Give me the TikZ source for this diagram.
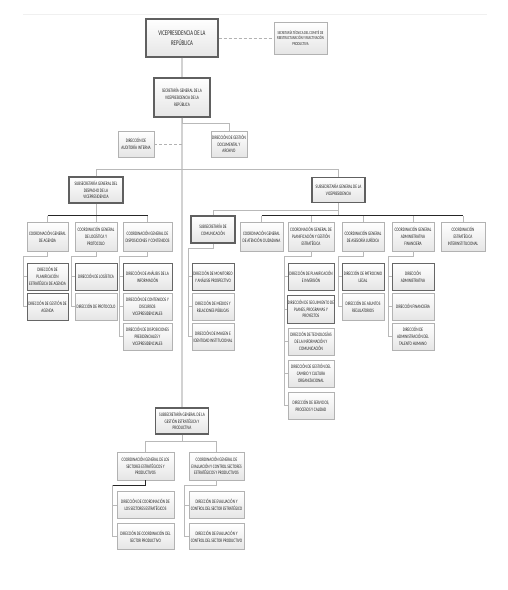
\documentclass[tikz,border=0pt]{standalone}
\usepackage{fontspec}
\newfontfamily\orgfont{Carlito}[FakeStretch=0.67]
\usetikzlibrary{shadows,calc}
\definecolor{txt}{HTML}{262626}
\begin{document}
\begin{tikzpicture}[x=1pt,y=-1pt,
  box/.style={draw=gray!60, line width=0.6pt, top color=white, bottom color=gray!20,
    drop shadow={shadow xshift=0.8pt,shadow yshift=-0.8pt,fill=gray!60,opacity=1},
    inner sep=0.5pt, align=center, text=txt,
    font=\orgfont\fontsize{5.2}{6.8}\selectfont},
  hbox/.style={box, draw=gray!75!black, line width=1.3pt},
  dbox/.style={box, draw=gray!80!black, line width=0.9pt},
  sz/.style 2 args={minimum width=#1pt, minimum height=#2pt},
  ln/.style={draw=gray!55, line width=0.9pt},
  mainln/.style={draw=gray!35, line width=1.6pt},
  dk/.style={draw=black!85, line width=1.1pt},
  dsh/.style={draw=gray!60, dash pattern=on 3pt off 2pt, line width=1pt}]
\fill[white] (0,0) rectangle (508,590);
\useasboundingbox (0,0) rectangle (508,590);
\draw[gray!12, line width=0.8pt] (23,14) -- (487,14);

% ---- top
\node[hbox, sz={72}{38}, font=\orgfont\fontsize{7.2}{9.5}\selectfont] (vp) at (182,38) {VICEPRESIDENCIA DE LA\\REPÚBLICA};
\node[box, sz={53}{32}, font=\orgfont\fontsize{4.5}{5.8}\selectfont] (stc) at (300.5,38) {SECRETARÍA TÉCNICA DEL COMITÉ DE\\REESTRUCTURACIÓN Y REACTIVACIÓN\\PRODUCTIVA};
\node[hbox, sz={56}{39}] (sg) at (182,97.5) {SECRETARÍA GENERAL DE LA\\VICEPRESIDENCIA DE LA\\REPÚBLICA};
\node[box, sz={36}{26}] (aud) at (136,144) {DIRECCIÓN DE\\AUDITORÍA INTERNA};
\node[box, sz={36}{26}] (doc) at (229,144) {DIRECCIÓN DE GESTIÓN\\DOCUMENTAL Y\\ARCHIVO};

% ---- subsecretarias
\node[hbox, sz={54}{26}] (ssd) at (96,190) {SUBSECRETARÍA GENERAL DEL\\DESPACHO DE LA\\VICEPRESIDENCIA};
\node[hbox, sz={53}{25}] (ssv) at (338.5,190) {SUBSECRETARÍA GENERAL DE LA\\VICEPRESIDENCIA};

% ---- left row
\node[box, sz={41}{29}] (ag) at (47.5,236.5) {COORDINACIÓN GENERAL\\DE AGENDA};
\node[box, sz={42}{29}] (lp) at (96,236.5) {COORDINACIÓN GENERAL\\DE LOGÍSTICA Y\\PROTOCOLO};
\node[box, sz={49}{29}] (dc) at (147.5,236.5) {COORDINACIÓN GENERAL DE\\DISPOSICIONES Y CONTENIDOS};

\node[dbox, sz={41}{27}] (ag1) at (47.5,276.5) {DIRECCIÓN DE\\PLANIFICACIÓN\\ESTRATÉGICA DE AGENDA};
\node[dbox, sz={41}{27}] (ag2) at (47.5,306.5) {DIRECCIÓN DE GESTIÓN DE\\AGENDA};
\node[dbox, sz={42}{27}] (lp1) at (96,276.5) {DIRECCIÓN DE LOGÍSTICA};
\node[box, sz={42}{27}] (lp2) at (96,306.5) {DIRECCIÓN DE PROTOCOLO};
\node[dbox, sz={49}{27}] (dc1) at (147.5,276.5) {DIRECCIÓN DE ANÁLISIS DE LA\\INFORMACIÓN};
\node[box, sz={49}{27}] (dc2) at (147.5,306.5) {DIRECCIÓN DE CONTENIDOS Y\\DISCURSOS\\VICEPRESIDENCIALES};
\node[box, sz={49}{27}] (dc3) at (147.5,336.5) {DIRECCIÓN DE DISPOSICIONES\\PRESIDENCIALES Y\\VICEPRESIDENCIALES};

% ---- right row
\node[hbox, sz={44}{27}] (com) at (213,229.5) {SUBSECRETARÍA DE\\COMUNICACIÓN};
\node[box, sz={43}{29}] (ate) at (261.5,236.5) {COORDINACIÓN GENERAL\\DE ATENCIÓN CIUDADANA};
\node[box, sz={46}{29}] (pge) at (311,236.5) {COORDINACIÓN GENERAL DE\\PLANIFICACIÓN Y GESTIÓN\\ESTRATÉGICA};
\node[box, sz={42}{29}] (aju) at (363,236.5) {COORDINACIÓN GENERAL\\DE ASESORÍA JURÍDICA};
\node[box, sz={42}{29}] (caf) at (413,236.5) {COORDINACIÓN GENERAL\\ADMINISTRATIVA\\FINANCIERA};
\node[box, sz={44}{29}] (cei) at (463,236.5) {COORDINACIÓN\\ESTRATÉGICA\\INTERINSTITUCIONAL};

\node[dbox, sz={42}{27}] (com1) at (213,276.5) {DIRECCIÓN DE MONITOREO\\Y ANÁLISIS PROSPECTIVO};
\node[box, sz={42}{27}] (com2) at (213,306.5) {DIRECCIÓN DE MEDIOS Y\\RELACIONES PÚBLICAS};
\node[box, sz={42}{27}] (com3) at (213,336.5) {DIRECCIÓN DE IMAGEN E\\IDENTIDAD INSTITUCIONAL};

\node[dbox, sz={46}{27}] (pge1) at (311,276.5) {DIRECCIÓN DE PLANIFICACIÓN\\E INVERSIÓN};
\node[dbox, sz={46}{28}] (pge2) at (311,309) {DIRECCIÓN DE SEGUIMIENTO DE\\PLANES, PROGRAMAS Y\\PROYECTOS};
\node[box, sz={46}{27}] (pge3) at (311,341.5) {DIRECCIÓN DE TECNOLOGÍAS\\DE LA INFORMACIÓN Y\\COMUNICACIÓN};
\node[box, sz={46}{27}] (pge4) at (311,373.5) {DIRECCIÓN DE GESTIÓN DEL\\CAMBIO Y CULTURA\\ORGANIZACIONAL};
\node[box, sz={46}{27}] (pge5) at (311,405.5) {DIRECCIÓN DE SERVICIOS,\\PROCESOS Y CALIDAD};

\node[dbox, sz={42}{27}] (aju1) at (363,276.5) {DIRECCIÓN DE PATROCINIO\\LEGAL};
\node[box, sz={42}{27}] (aju2) at (363,306.5) {DIRECCIÓN DE ASUNTOS\\REGULATORIOS};

\node[dbox, sz={42}{27}] (caf1) at (413,276.5) {DIRECCIÓN\\ADMINISTRATIVA};
\node[box, sz={42}{27}] (caf2) at (413,306.5) {DIRECCIÓN FINANCIERA};
\node[box, sz={42}{27}] (caf3) at (413,336.5) {DIRECCIÓN DE\\ADMINISTRACIÓN DEL\\TALENTO HUMANO};

% ---- bottom
\node[hbox, sz={53}{26}] (ssg) at (182,421) {SUBSECRETARÍA GENERAL DE LA\\GESTIÓN ESTRATÉGICA Y\\PRODUCTIVA};
\node[box, sz={57}{28}] (cse) at (145.5,466) {COORDINACIÓN GENERAL DE LOS\\SECTORES ESTRATÉGICOS Y\\PRODUCTIVOS};
\node[box, sz={55}{28}] (cec) at (216.5,466) {COORDINACIÓN GENERAL DE\\EVALUACIÓN Y CONTROL SECTORES\\ESTRATÉGICOS Y PRODUCTIVOS};
\node[box, sz={57}{27}] (cse1) at (145.5,505) {DIRECCIÓN DE COORDINACIÓN DE\\LOS SECTORES ESTRATÉGICOS};
\node[box, sz={57}{26}] (cse2) at (145.5,536.5) {DIRECCIÓN DE COORDINACIÓN DEL\\SECTOR PRODUCTIVO};
\node[box, sz={55}{27}] (cec1) at (216.5,505) {DIRECCIÓN DE EVALUACIÓN Y\\CONTROL DEL SECTOR ESTRATÉGICO};
\node[box, sz={55}{26}] (cec2) at (216.5,536.5) {DIRECCIÓN DE EVALUACIÓN Y\\CONTROL DEL SECTOR PRODUCTIVO};

% ---- connectors
\draw[dsh] (vp.east) -- (stc.west);
\draw[mainln] (vp.south) -- (sg.north);
\draw[mainln] (sg.south) -- (ssg.north);
\draw[ln] (sg.south) -- ++(0,6) -| (doc.north);
\draw[dsh] (aud.east) -- (aud.east -| sg.south);
\draw[ln] (ssd.north) -- ++(0,-7) -| (ssv.north);

% left row
\coordinate (lb) at ([yshift=6pt]ag.north);
\draw[ln] (ssd.south) -- (lp.north);
\foreach \n in {ag,dc} \draw[ln] (\n.north) -- (\n.north |- lb);
\draw[dk] (lb) -- (lb -| dc.north);

% right row
\draw[ln] (ssv.south) -- ++(0,7) -| (com.north);
\coordinate (rb) at ([yshift=6pt]ate.north);
\draw[ln] (ssv.south) -- (ssv.south |- rb);
\foreach \n in {ate,pge,aju,caf,cei} \draw[ln] (\n.north) -- (\n.north |- rb);
\draw[dk] (rb) -- (rb -| cei.north);

% children
\foreach \p/\last/\mids in {ag/ag2/{ag1}, lp/lp2/{lp1}, dc/dc3/{dc1,dc2}, com/com3/{com1,com2}, pge/pge5/{pge1,pge2,pge3,pge4}, aju/aju2/{aju1}, caf/caf3/{caf1,caf2}}{
  \draw[ln] (\p.south) -- ++(0,5) -| ([xshift=-3.5pt]\last.west) -- (\last.west);
  \foreach \m in \mids \draw[ln] (\m.west) -- ++(-3.5,0);
}

% bottom
\coordinate (bb) at ([yshift=10pt]cse.north);
\draw[ln] (ssg.south) -- (ssg.south |- bb);
\draw[ln] (cse.north) -- (bb) -- (bb -| cec.north) -- (cec.north);
\coordinate (csel) at ([xshift=-4pt]cse2.west);
\coordinate (csb) at ([yshift=-5pt]cse.south);
\draw[ln] (csb) -- (csb -| csel) -- (csel) -- (cse2.west);
\draw[dk] (cse.south) -- (csb) -- (csb -| csel);
\draw[ln] (cse1.west) -- ++(-4,0);
\draw[ln] (cec.south) -- ++(0,5) -| ([xshift=-4pt]cec2.west) -- (cec2.west);
\draw[ln] (cec1.west) -- ++(-4,0);
\end{tikzpicture}
\end{document}
